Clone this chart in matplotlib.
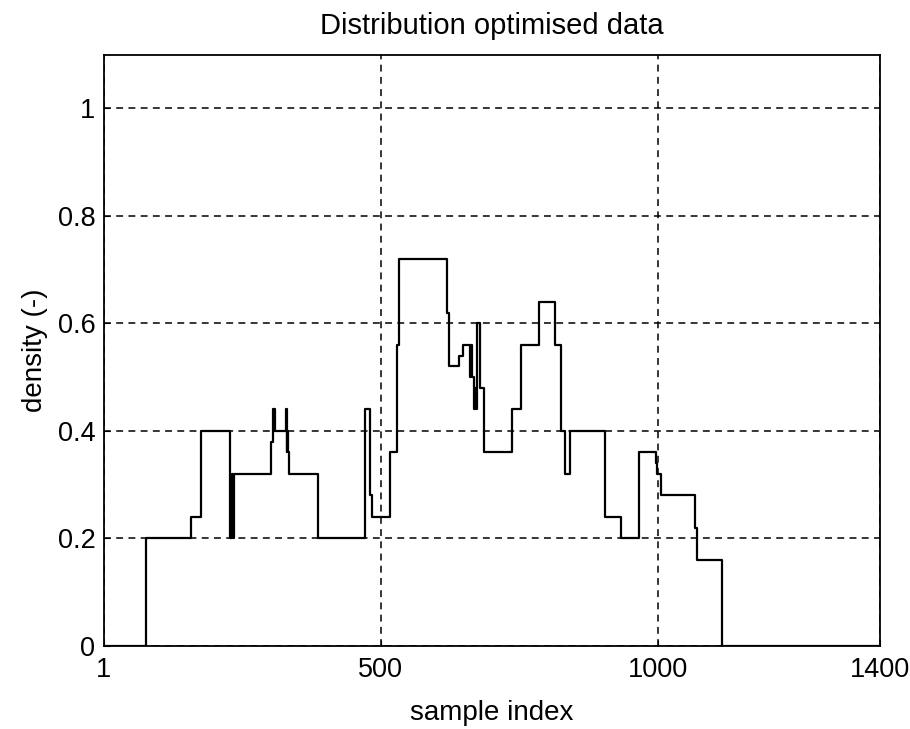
import matplotlib
matplotlib.use('Agg')
import matplotlib.pyplot as plt

# step change points (sample index, new density level)
change_index = [1, 78, 159, 177, 228, 232, 234, 236, 303, 306, 307, 308, 310,
                329, 331, 332, 333, 334, 387, 472, 481, 485, 517, 529, 534,
                619, 623, 642, 648, 661, 663, 665, 668, 669, 671, 672, 673,
                680, 687, 736, 753, 786, 815, 826, 832, 842, 905, 934, 966,
                996, 999, 1005, 1067, 1070, 1116, 1400]
density_level = [0, 0.2, 0.24, 0.4, 0.2, 0.32, 0.2, 0.32, 0.38, 0.44, 0.4, 0.44, 0.4,
                 0.44, 0.36, 0.4, 0.36, 0.32, 0.2, 0.44, 0.28, 0.24, 0.36, 0.56, 0.72,
                 0.62, 0.52, 0.54, 0.56, 0.5, 0.56, 0.5, 0.48, 0.44, 0.48, 0.44, 0.6,
                 0.48, 0.36, 0.44, 0.56, 0.64, 0.56, 0.4, 0.32, 0.4, 0.24, 0.2, 0.36,
                 0.34, 0.32, 0.28, 0.22, 0.16, 0, 0]

x_ticks = [1, 500, 1000, 1400]
y_ticks = [0, 0.2, 0.4, 0.6, 0.8, 1]
y_tick_labels = ['0', '0.2', '0.4', '0.6', '0.8', '1']

plt.rcParams['font.family'] = ['Liberation Sans', 'DejaVu Sans']

fig = plt.figure(figsize=(9.1, 7.29), dpi=100)
ax = fig.add_axes([0.114, 0.114, 0.853, 0.811])

ax.step(change_index, density_level, where='post', color='black', linewidth=1.6)

ax.set_xlim(1, 1400)
ax.set_ylim(0, 1.1)
ax.set_xticks(x_ticks)
ax.set_xticklabels([str(t) for t in x_ticks])
ax.set_yticks(y_ticks)
ax.set_yticklabels(y_tick_labels)
ax.tick_params(direction='in', length=4, labelsize=19.5, color='black')
ax.tick_params(axis='x', pad=8)
ax.tick_params(axis='y', pad=6)

ax.grid(True, color='black', linestyle=(0, (4.5, 3.5)), linewidth=1.1)
for s in ax.spines.values():
    s.set_linewidth(1.3)

ax.set_title('Distribution optimised data', fontsize=21, pad=15)
ax.set_xlabel('sample index', fontsize=20, labelpad=12)
ax.set_ylabel('density (-)', fontsize=20, labelpad=7)

fig.savefig('out.png', dpi=100)
